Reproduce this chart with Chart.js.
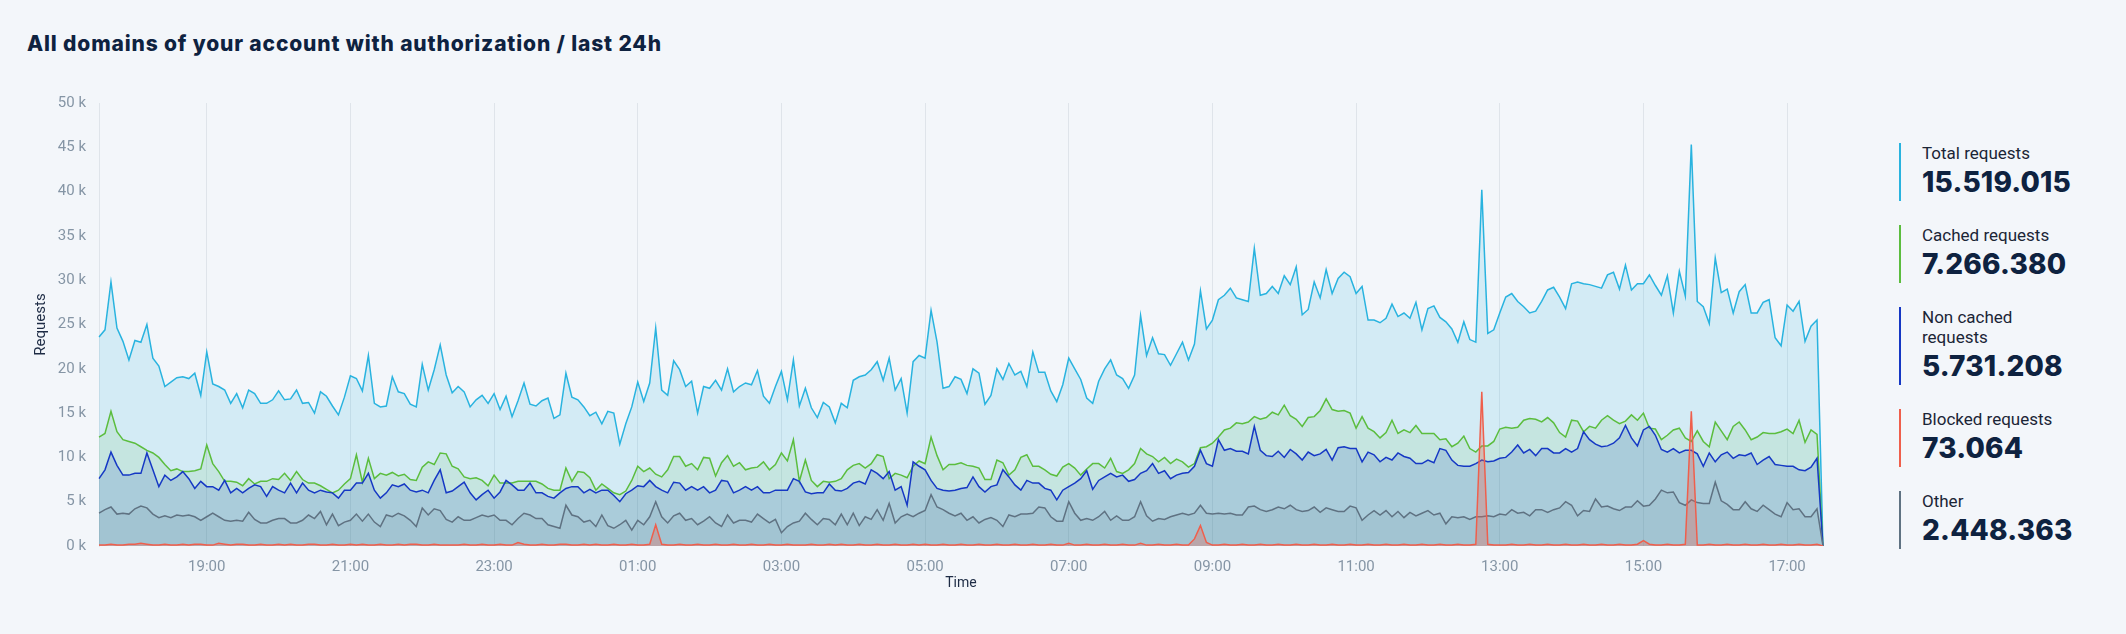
<!DOCTYPE html>
<html lang="en">
<head>
  <meta charset="UTF-8">
  <title>All domains of your account with authorization / last 24h</title>
  <script src="https://cdn.jsdelivr.net/npm/chart.js"></script>
  <style>
    body { margin: 0; width: 2126px; height: 634px; background: #f3f6fa; font-family: Roboto, 'Open Sans', sans-serif; overflow: hidden; position: relative; }
    .title { position: absolute; left: 27px; top: 31px; margin: 0; font: 800 21px/26px Inter, 'Open Sans', sans-serif; color: #0e2240; letter-spacing: 0.85px; }
    #chartBox { position: absolute; left: 0; top: 0; }
    #legend { position: absolute; left: 1899px; top: 143px; margin: 0; padding: 0; list-style: none; display: flex; flex-direction: column; gap: 24px; }
    #legend li { border-left: 2px solid; padding-left: 21px; width: 150px; }
    #legend .name { font: 400 17px/20px Roboto, sans-serif; color: #1b2536; }
    #legend .value { font: 800 28px/38px Inter, 'Open Sans', sans-serif; color: #0e2240; letter-spacing: 0.2px; }
  </style>
</head>
<body>
  <h1 class="title">All domains of your account with authorization / last 24h</h1>
  <div id="chartBox"><canvas id="requestsChart" width="1835" height="634"></canvas></div>
  <ul id="legend"></ul>

  <script>
    // 5 minute samples, 17:30 -> 17:30 (values in thousands)
    const totalRequests = [
      23.6, 24.4, 29.8, 24.6, 23.1, 21.0, 23.2, 23.0, 25.0, 21.2,
      20.3, 18.0, 18.5, 19.0, 19.1, 18.9, 19.5, 17.0, 21.9, 18.3,
      18.0, 17.6, 16.1, 17.2, 15.6, 17.6, 17.2, 16.1, 16.1, 16.5,
      17.5, 16.5, 16.6, 17.6, 16.1, 16.2, 15.0, 17.4, 16.9, 15.8,
      14.8, 16.8, 19.2, 18.9, 17.5, 21.5, 16.1, 15.7, 15.8, 19.1,
      17.4, 17.2, 16.0, 15.7, 20.5, 17.6, 19.9, 22.7, 19.3, 17.3,
      18.0, 17.4, 15.7, 16.5, 17.0, 16.1, 17.2, 15.4, 16.9, 14.6,
      16.4, 18.4, 16.0, 15.8, 16.4, 16.7, 14.4, 14.8, 19.5, 16.8,
      16.5, 15.7, 14.7, 15.1, 13.8, 15.2, 15.0, 11.5, 13.8, 15.7,
      18.5, 16.3, 18.4, 24.6, 17.6, 17.0, 20.9, 19.9, 18.0, 18.6,
      15.0, 18.0, 17.8, 18.7, 17.6, 20.0, 17.4, 18.0, 18.4, 18.2,
      19.8, 16.9, 16.1, 18.0, 19.7, 16.5, 21.0, 15.8,
      17.8, 15.6, 14.5, 16.2, 15.7, 13.9, 16.1, 15.6, 18.7, 19.1,
      19.3, 19.9, 20.8, 18.7, 21.2, 17.6, 18.9, 15.0, 20.8, 21.5,
      21.2, 26.6, 23.0, 17.8, 18.0, 19.1, 18.8, 17.2, 20.0, 19.5,
      16.0, 17.0, 20.0, 18.8, 20.6, 19.3, 19.7, 18.0, 21.9, 19.6,
      19.6, 17.5, 16.3, 18.2, 21.2, 20.0, 18.8, 16.7, 16.1, 18.6,
      20.0, 21.0, 19.3, 18.9, 17.8, 19.3, 26.0, 21.5,
      23.5, 21.7, 21.6, 20.4, 21.7, 23.0, 21.0, 22.8, 28.8, 24.5,
      25.5, 27.8, 28.3, 29.1, 28.0, 27.8, 27.6, 33.6, 28.3, 28.5,
      29.3, 28.5, 30.5, 29.5, 31.5, 26.1, 26.7, 29.8, 28.0, 31.2,
      28.5, 30.2, 30.9, 30.4, 28.5, 29.3, 25.5, 25.5, 25.2, 25.7,
      27.3, 25.9, 26.3, 25.7, 27.5, 24.4, 26.8, 27.1, 25.8, 25.3,
      24.5, 23.0, 25.3, 23.3, 23.0, 40.2, 24.0, 24.4, 26.3,
      28.1, 28.5, 27.6, 27.0, 26.3, 26.5, 27.6, 28.9, 29.2, 28.1,
      26.8, 29.6, 29.8, 29.6, 29.5, 29.3, 29.1, 30.6, 30.9, 29.0,
      31.7, 28.9, 29.6, 29.6, 30.6, 29.4, 28.3, 30.5, 26.3, 31.0,
      28.2, 45.3, 27.6, 27.0, 25.1, 32.5, 28.6, 29.0, 26.3, 28.7,
      29.5, 26.3, 26.3, 27.5, 27.8, 23.5, 22.6, 27.2, 26.5, 27.6,
      23.1, 24.8, 25.5, 0
    ];

    const cachedRequests = [
      12.3, 12.7, 15.2, 12.9, 12.0, 11.8, 11.6, 11.2, 10.8, 10.5,
      10.0, 9.2, 8.5, 8.7, 8.4, 8.4, 8.5, 8.7, 11.4, 9.3,
      8.4, 7.3, 7.3, 7.2, 6.8, 7.6, 7.0, 7.3, 7.3, 7.6,
      7.5, 8.2, 7.4, 8.4, 7.5, 7.1, 7.1, 6.8, 6.4, 6.0,
      6.3, 7.0, 7.6, 10.3, 7.2, 9.9, 7.6, 8.2, 8.0, 8.3,
      7.9, 8.1, 7.5, 7.4, 8.9, 9.5, 9.2, 10.5, 10.4, 9.0,
      8.7, 7.8, 7.6, 7.7, 7.4, 6.8, 8.0, 7.1, 7.1, 7.1,
      7.3, 7.3, 7.3, 7.3, 7.0, 6.5, 6.3, 6.3, 8.8, 7.3,
      8.4, 8.3, 7.7, 6.3, 7.0, 6.5, 6.0, 5.8, 6.2, 7.4,
      9.0, 8.4, 8.8, 8.1, 7.8, 8.6, 10.1, 10.1, 9.0, 9.3,
      8.6, 10.0, 9.9, 7.9, 9.4, 10.2, 9.0, 9.4, 8.6, 8.8,
      8.9, 9.5, 8.6, 9.2, 10.5, 9.6, 12.0, 7.3,
      9.7, 7.4, 6.7, 7.3, 7.2, 7.3, 7.6, 8.6, 9.1, 9.3,
      8.8, 9.3, 10.3, 10.1, 7.6, 8.2, 8.0, 7.7, 9.0, 9.6,
      9.3, 12.3, 10.2, 8.6, 9.2, 9.2, 9.4, 9.1, 9.0, 8.8,
      7.5, 7.5, 9.7, 9.4, 8.0, 8.6, 10.0, 10.3, 9.0, 9.0,
      8.6, 8.1, 7.9, 8.9, 9.3, 8.8, 8.0, 8.7, 9.3, 9.3,
      8.8, 9.9, 8.4, 8.2, 8.6, 9.3, 11.0, 10.4,
      10.1, 9.5, 10.0, 9.3, 9.8, 9.5, 8.9, 9.3, 11.1, 11.2,
      11.6, 12.3, 13.1, 13.3, 13.9, 13.8, 14.0, 14.6, 14.3, 14.5,
      15.1, 14.8, 15.9, 14.7, 14.3, 13.5, 14.5, 14.6, 15.3, 16.6,
      15.4, 15.2, 15.3, 15.0, 13.3, 14.6, 13.3, 12.9, 12.2, 12.8,
      14.2, 12.7, 13.1, 12.8, 13.6, 12.7, 12.7, 12.7, 12.0, 12.1,
      11.2, 11.6, 12.4, 11.0, 10.6, 11.3, 11.3, 11.8, 13.2,
      13.4, 13.3, 13.4, 14.2, 14.4, 14.3, 14.0, 14.5, 13.9, 12.8,
      12.3, 14.2, 14.1, 12.9, 13.5, 13.3, 14.2, 14.7, 14.2, 13.8,
      14.1, 14.8, 14.2, 15.0, 13.3, 13.2, 12.0, 12.5, 13.1, 13.3,
      12.2, 11.8, 13.0, 11.8, 11.2, 14.0, 13.0, 12.0, 13.5, 14.0,
      13.1, 12.0, 12.3, 12.8, 12.7, 12.7, 12.9, 13.2, 12.7, 14.2,
      11.7, 13.1, 12.6, 0
    ];

    const nonCachedRequests = [
      7.6, 8.6, 10.6, 9.1, 8.0, 8.0, 8.2, 8.2, 10.5, 8.6,
      6.7, 8.0, 7.4, 7.8, 8.4, 7.6, 6.5, 7.3, 6.7, 6.7,
      6.3, 7.4, 6.0, 6.5, 6.0, 6.5, 6.9, 6.7, 5.6, 6.7,
      6.3, 6.0, 7.1, 6.0, 7.1, 6.3, 6.0, 6.3, 6.1, 6.0,
      5.4, 6.3, 6.3, 7.1, 7.1, 8.2, 6.3, 5.4, 6.0, 6.9,
      6.7, 7.0, 6.3, 6.1, 6.3, 6.0, 7.4, 8.6, 6.0, 6.2,
      6.7, 7.2, 6.0, 5.2, 5.8, 6.3, 5.4, 6.1, 7.4, 6.9,
      6.3, 6.3, 7.1, 6.0, 6.0, 5.6, 5.4, 6.0, 6.5, 6.7,
      6.7, 6.0, 6.4, 6.0, 6.3, 6.3, 5.7, 5.0, 5.9, 6.3,
      6.8, 6.7, 7.4, 6.7, 6.3, 6.0, 7.2, 7.1, 6.3, 6.7,
      6.3, 6.7, 6.0, 6.3, 7.4, 7.3, 6.0, 6.3, 6.7, 6.3,
      6.7, 6.0, 6.0, 6.3, 6.3, 6.3, 7.6, 7.3,
      6.1, 5.9, 6.0, 6.0, 7.0, 6.3, 6.2, 6.5, 7.1, 7.3,
      7.0, 8.6, 8.2, 7.6, 8.4, 6.3, 6.7, 4.6, 9.5, 9.0,
      8.6, 7.4, 6.5, 6.3, 6.2, 6.3, 6.5, 6.6, 7.8, 6.7,
      6.1, 6.7, 6.9, 8.6, 7.8, 6.9, 6.3, 7.4, 7.1, 7.1,
      6.5, 6.3, 5.2, 6.3, 6.7, 7.1, 7.6, 8.5, 6.4, 7.4,
      7.8, 8.2, 7.8, 8.0, 7.3, 7.5, 8.2, 8.5,
      9.3, 8.2, 8.5, 7.6, 8.0, 8.2, 8.3, 9.0, 10.8, 9.3,
      9.0, 12.0, 10.8, 11.0, 10.7, 10.7, 10.4, 13.5, 10.8, 10.2,
      10.1, 10.7, 10.0, 10.9, 10.4, 9.7, 10.6, 10.2, 10.4, 10.9,
      9.7, 11.1, 11.2, 11.0, 11.0, 9.5, 10.6, 10.3, 9.5, 10.0,
      9.7, 10.5, 10.1, 9.9, 9.3, 9.3, 9.7, 9.4, 11.0, 10.8,
      9.7, 9.1, 9.0, 9.0, 9.3, 9.7, 9.5, 9.6, 9.9,
      10.0, 10.6, 11.4, 10.5, 10.9, 10.2, 11.0, 11.0, 10.5, 10.5,
      11.0, 10.6, 11.0, 12.9, 12.0, 11.5, 11.2, 11.3, 11.6, 12.2,
      13.6, 12.2, 11.3, 13.1, 13.5, 12.5, 10.9, 10.6, 11.0, 10.5,
      10.8, 10.8, 10.4, 9.0, 10.5, 9.5, 10.3, 10.6, 9.9, 10.3,
      10.2, 10.5, 9.2, 9.7, 10.1, 9.2, 9.1, 9.0, 9.0, 8.6,
      8.5, 8.9, 9.9, 0
    ];

    const blockedRequests = [
      0.1, 0.1, 0.2, 0.1, 0.1, 0.2, 0.2, 0.3, 0.2, 0.1,
      0.1, 0.2, 0.1, 0.1, 0.2, 0.1, 0.2, 0.2, 0.1, 0.1,
      0.3, 0.2, 0.1, 0.2, 0.2, 0.1, 0.1, 0.2, 0.1, 0.1,
      0.2, 0.1, 0.2, 0.1, 0.1, 0.2, 0.2, 0.1, 0.1, 0.2,
      0.1, 0.1, 0.2, 0.1, 0.2, 0.1, 0.1, 0.2, 0.1, 0.1,
      0.2, 0.1, 0.2, 0.2, 0.1, 0.1, 0.2, 0.1, 0.1, 0.1,
      0.1, 0.2, 0.1, 0.1, 0.2, 0.1, 0.1, 0.2, 0.1, 0.1,
      0.4, 0.2, 0.1, 0.1, 0.2, 0.1, 0.1, 0.2, 0.2, 0.1,
      0.1, 0.2, 0.1, 0.2, 0.1, 0.1, 0.2, 0.1, 0.1, 0.2,
      0.1, 0.1, 0.2, 2.4, 0.2, 0.1, 0.1, 0.2, 0.1, 0.1,
      0.2, 0.1, 0.1, 0.2, 0.1, 0.1, 0.2, 0.1, 0.1, 0.2,
      0.1, 0.1, 0.2, 0.1, 0.1, 0.2, 0.1, 0.1,
      0.1, 0.2, 0.1, 0.1, 0.2, 0.1, 0.2, 0.1, 0.1, 0.2,
      0.1, 0.1, 0.2, 0.1, 0.1, 0.2, 0.1, 0.1, 0.2, 0.1,
      0.2, 0.1, 0.1, 0.2, 0.1, 0.1, 0.2, 0.1, 0.1, 0.2,
      0.1, 0.1, 0.2, 0.1, 0.1, 0.2, 0.1, 0.1, 0.2, 0.1,
      0.1, 0.2, 0.1, 0.1, 0.3, 0.1, 0.1, 0.2, 0.1, 0.1,
      0.2, 0.1, 0.1, 0.2, 0.1, 0.1, 0.3, 0.1,
      0.1, 0.2, 0.1, 0.1, 0.2, 0.1, 0.1, 0.8, 2.3, 0.4,
      0.1, 0.1, 0.2, 0.1, 0.1, 0.2, 0.1, 0.1, 0.2, 0.1,
      0.1, 0.2, 0.1, 0.1, 0.2, 0.1, 0.1, 0.2, 0.1, 0.1,
      0.2, 0.1, 0.1, 0.2, 0.1, 0.1, 0.2, 0.1, 0.1, 0.2,
      0.1, 0.1, 0.2, 0.1, 0.1, 0.2, 0.1, 0.1, 0.2, 0.1,
      0.1, 0.2, 0.1, 0.1, 0.2, 17.4, 0.2, 0.1, 0.1,
      0.1, 0.2, 0.1, 0.1, 0.2, 0.1, 0.1, 0.2, 0.1, 0.1,
      0.2, 0.1, 0.1, 0.2, 0.1, 0.1, 0.2, 0.1, 0.1, 0.2,
      0.1, 0.1, 0.2, 0.6, 0.2, 0.1, 0.1, 0.2, 0.1, 0.1,
      0.2, 15.2, 0.1, 0.1, 0.2, 0.1, 0.1, 0.2, 0.1, 0.1,
      0.2, 0.1, 0.1, 0.2, 0.1, 0.1, 0.2, 0.1, 0.1, 0.2,
      0.1, 0.1, 0.2, 0
    ];

    const otherRequests = [
      3.7, 4.1, 4.4, 3.6, 3.7, 3.6, 4.2, 4.5, 4.3, 3.6,
      3.2, 3.4, 3.2, 3.5, 3.4, 3.5, 3.3, 2.9, 3.3, 3.7,
      3.3, 2.9, 2.8, 2.9, 2.8, 3.8, 3.0, 2.6, 2.6, 2.9,
      3.1, 3.1, 2.6, 2.6, 2.9, 3.5, 3.1, 3.9, 2.4, 3.6,
      2.3, 2.7, 2.9, 3.6, 2.8, 3.6, 2.7, 2.2, 3.5, 3.3,
      3.7, 3.4, 2.9, 2.2, 4.3, 3.5, 4.2, 4.0, 3.0, 2.7,
      3.3, 2.9, 2.9, 3.2, 3.5, 3.3, 3.5, 2.9, 2.9, 2.4,
      3.1, 3.7, 3.5, 3.1, 3.1, 2.4, 2.2, 2.0, 4.6, 3.5,
      3.3, 2.7, 2.9, 2.2, 3.5, 2.3, 2.0, 2.4, 2.9, 1.8,
      2.9, 2.4, 3.3, 5.0, 3.3, 2.6, 3.4, 3.7, 2.9, 3.1,
      2.4, 2.8, 3.3, 2.6, 2.2, 3.5, 2.6, 2.9, 2.9, 2.7,
      3.6, 3.1, 2.6, 3.0, 1.5, 2.2, 2.6, 2.8,
      3.7, 3.0, 2.4, 3.1, 3.0, 2.4, 3.6, 2.4, 3.7, 2.3,
      3.3, 3.0, 4.1, 2.9, 4.8, 2.6, 3.3, 3.6, 3.3, 3.7,
      4.0, 5.8, 4.4, 4.1, 3.7, 3.4, 3.7, 2.9, 3.3, 2.6,
      3.0, 3.2, 2.9, 2.2, 3.5, 3.3, 3.6, 3.6, 3.7, 4.4,
      4.3, 3.3, 2.8, 2.8, 5.0, 3.7, 2.9, 3.1, 2.9, 3.3,
      3.9, 2.9, 3.4, 2.9, 2.9, 3.3, 5.0, 3.4,
      2.8, 3.1, 3.0, 3.3, 3.5, 3.7, 3.5, 3.7, 4.6, 3.7,
      3.6, 3.7, 3.6, 3.7, 3.5, 3.5, 4.4, 4.5, 4.1, 3.9,
      4.1, 4.4, 4.2, 4.6, 4.1, 3.9, 4.0, 4.4, 3.8, 4.3,
      4.1, 3.9, 3.9, 4.5, 4.3, 2.9, 3.5, 4.0, 3.5, 4.0,
      3.3, 3.9, 3.2, 3.8, 3.4, 3.7, 4.0, 3.5, 3.7, 2.5,
      3.3, 3.2, 3.3, 3.0, 3.3, 3.3, 3.4, 3.3, 3.6,
      3.5, 4.1, 3.7, 3.8, 3.4, 4.1, 4.1, 3.8, 4.1, 4.3,
      5.0, 4.6, 3.4, 4.0, 3.9, 5.3, 4.4, 4.5, 4.2, 4.0,
      4.4, 4.4, 5.1, 4.5, 4.6, 5.3, 6.3, 6.0, 6.1, 4.9,
      4.6, 5.2, 4.9, 4.8, 4.8, 7.2, 5.1, 4.7, 4.1, 4.1,
      5.0, 4.2, 3.9, 4.6, 4.1, 3.6, 3.3, 4.9, 4.1, 4.2,
      3.3, 3.3, 4.2, 0
    ];

    const timeTicks = ['19:00', '21:00', '23:00', '01:00', '03:00', '05:00',
                       '07:00', '09:00', '11:00', '13:00', '15:00', '17:00'];

    const legendLabels = ['Total requests', 'Cached requests', 'Non cached requests', 'Blocked requests', 'Other'];
    const legendTotals = ['15.519.015', '7.266.380', '5.731.208', '73.064', '2.448.363'];

    // category labels: one per 5 minute sample starting 17:30
    const startMinutes = 17 * 60 + 30;
    const times = totalRequests.map((_, i) => {
      const m = (startMinutes + i * 5) % 1440;
      return String(Math.floor(m / 60)).padStart(2, '0') + ':' + String(m % 60).padStart(2, '0');
    });

    const series = [
      { data: totalRequests, line: '#29b3df', fill: 'rgba(41,182,226,0.16)', order: 5 },
      { data: cachedRequests, line: '#5bbd3e', fill: 'rgba(100,190,70,0.12)', order: 4 },
      { data: nonCachedRequests, line: '#1538c4', fill: 'rgba(60,100,190,0.2)', order: 3 },
      { data: blockedRequests, line: '#ef5f4c', fill: 'rgba(239,95,76,0.3)', order: 1 },
      { data: otherRequests, line: '#5f7282', fill: 'rgba(80,100,120,0.08)', order: 2 }
    ];

    // legend on the right
    const legend = document.getElementById('legend');
    legendLabels.forEach((name, i) => {
      const li = document.createElement('li');
      li.style.borderColor = series[i].line;
      li.innerHTML = `<div class="name">${name}</div><div class="value">${legendTotals[i]}</div>`;
      legend.appendChild(li);
    });

    const tickColor = '#8595a5';
    const titleColor = '#1d2b44';

    new Chart(document.getElementById('requestsChart'), {
      type: 'line',
      data: {
        labels: times,
        datasets: series.map((s, i) => ({
          label: legendLabels[i],
          data: s.data,
          borderColor: s.line,
          backgroundColor: s.fill,
          borderWidth: 1.5,
          pointRadius: 0,
          tension: 0,
          fill: 'origin',
          order: s.order
        }))
      },
      options: {
        responsive: false,
        animation: false,
        layout: { padding: { top: 103, right: 12, bottom: 38, left: 0 } },
        plugins: { legend: { display: false }, tooltip: { enabled: false } },
        scales: {
          x: {
            afterFit: s => { s.height = 50; },
            grid: { color: '#dfe4ea', drawTicks: false },
            border: { display: false },
            ticks: {
              autoSkip: false, maxRotation: 0, minRotation: 0, padding: 12,
              color: tickColor, font: { size: 15, family: 'Roboto' },
              callback: (v, i) => timeTicks.includes(times[i]) ? times[i] : null
            },
            title: { display: true, text: 'Time', color: titleColor, font: { size: 14, family: 'Roboto' }, padding: { top: 0, bottom: 4 } }
          },
          y: {
            min: 0, max: 50,
            afterFit: s => { s.width = 99; },
            grid: { display: false, drawTicks: false },
            border: { display: true, color: '#dfe4ea' },
            ticks: {
              stepSize: 5, padding: 13,
              color: tickColor, font: { size: 15, family: 'Roboto' },
              callback: v => v + ' k'
            },
            title: { display: true, text: 'Requests', color: titleColor, font: { size: 15, family: 'Roboto' }, padding: { top: 32, bottom: 0 } }
          }
        }
      }
    });
  </script>
</body>
</html>
